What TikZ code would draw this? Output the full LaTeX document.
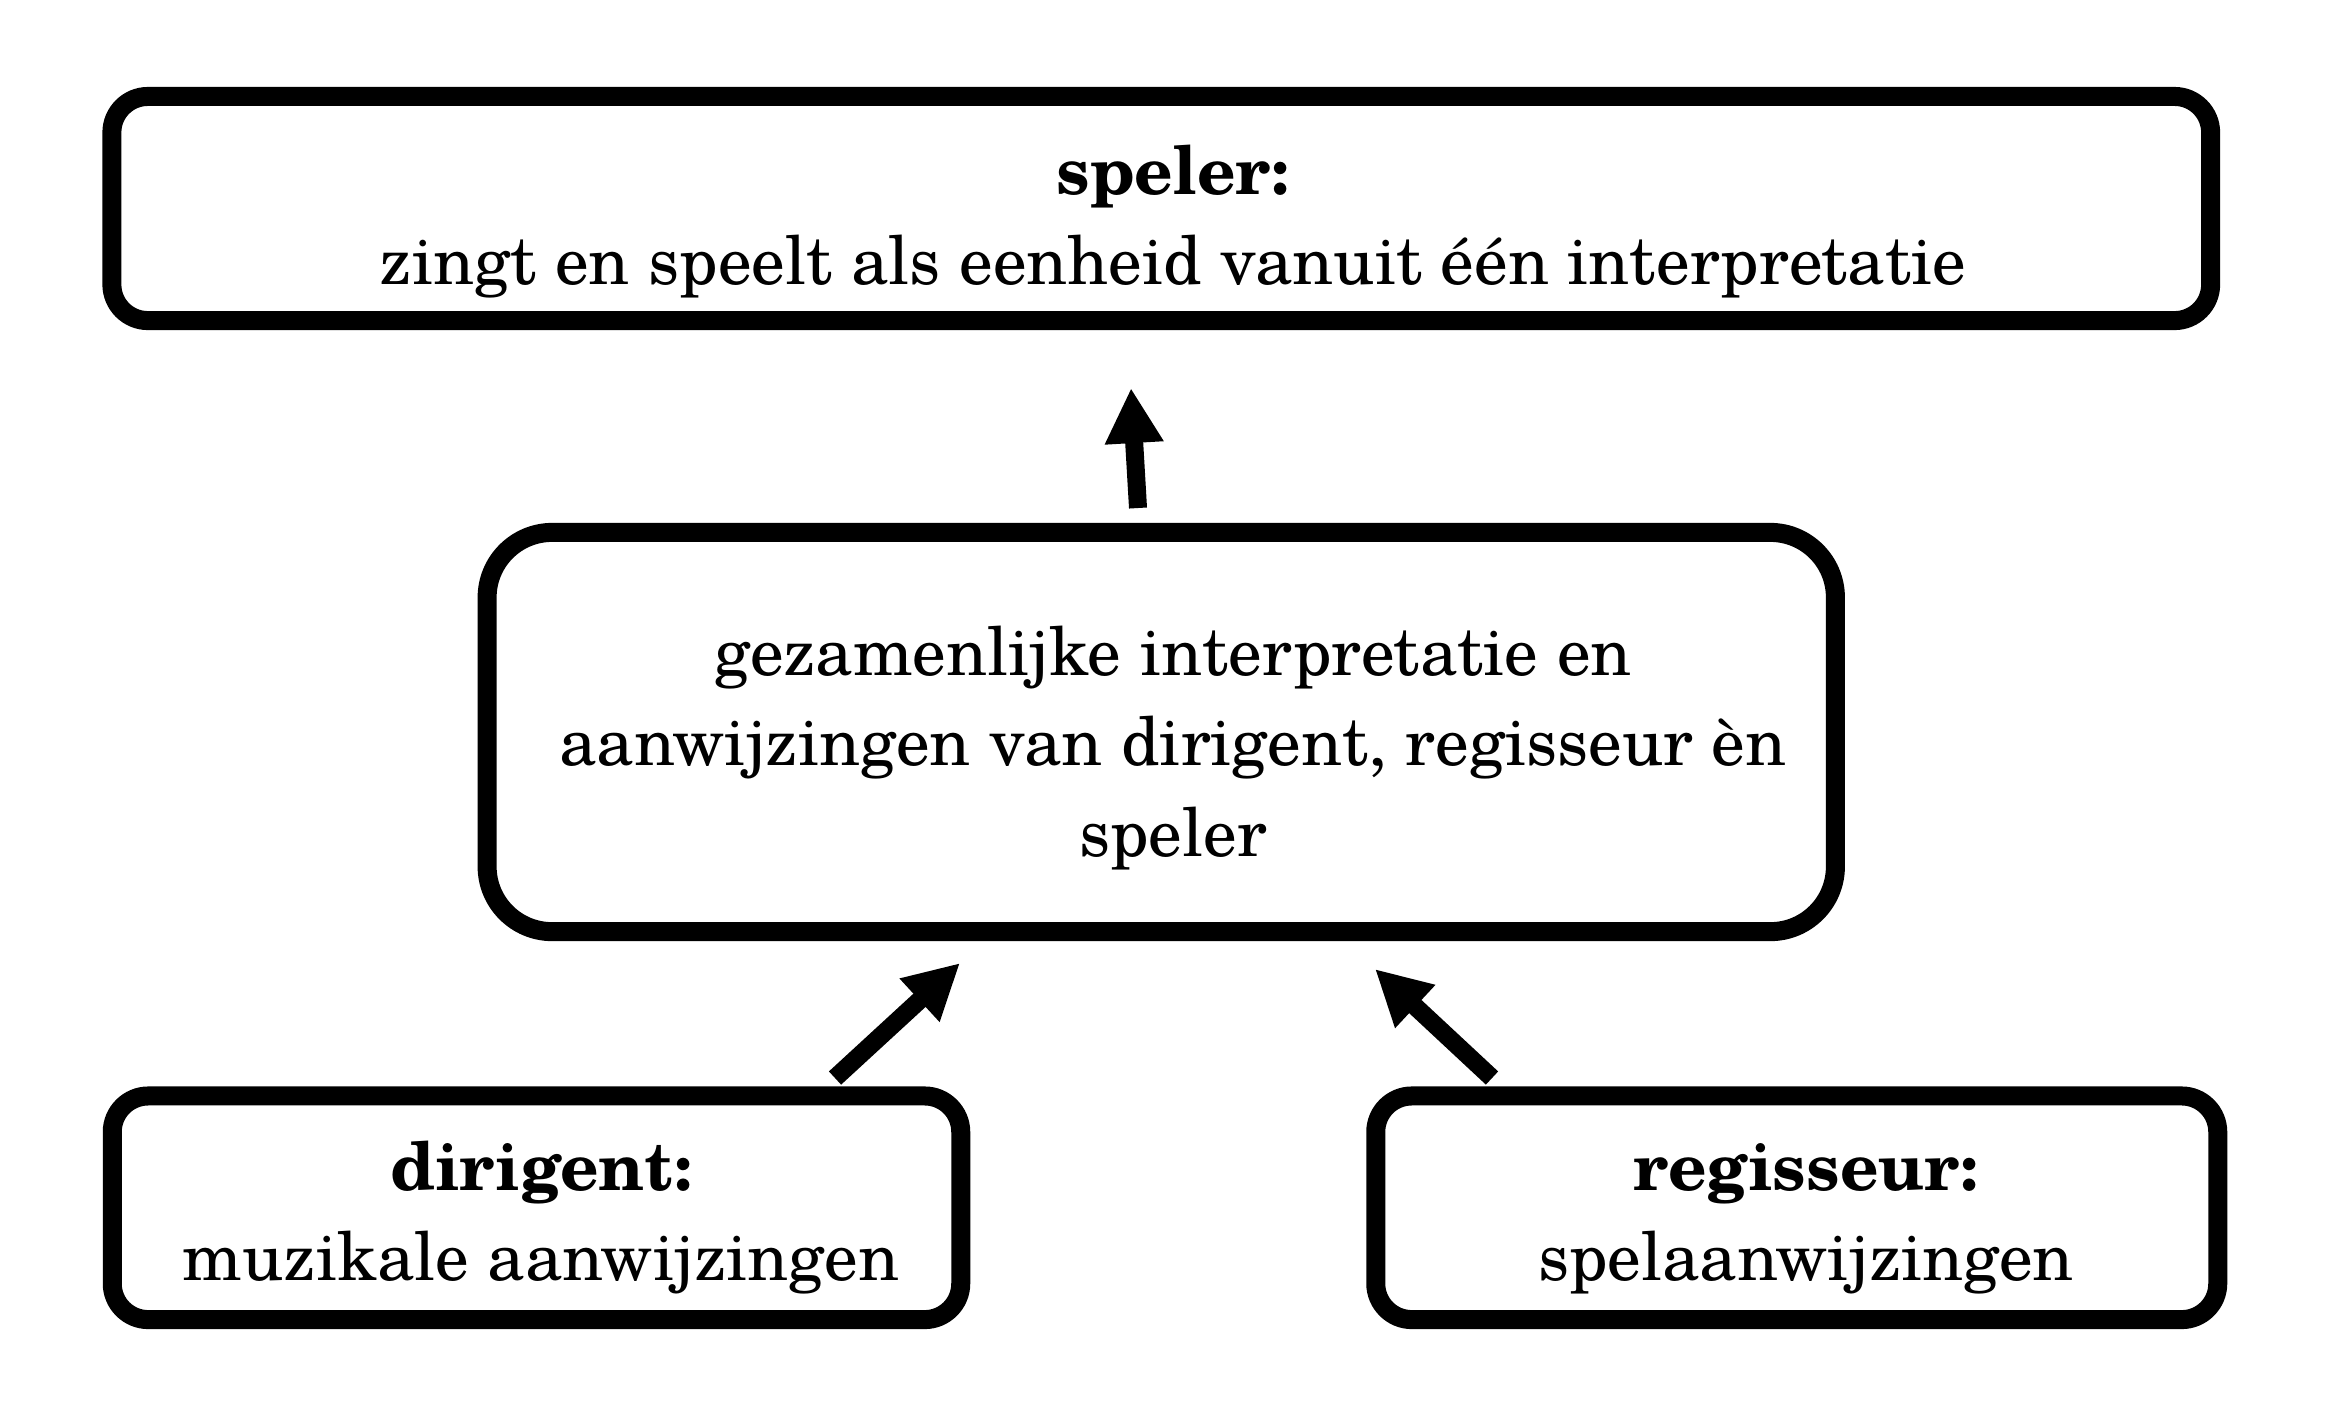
\documentclass[tikz,border=0pt]{standalone}
\usepackage{fontspec}
\setmainfont{TeX Gyre Schola}
\usetikzlibrary{arrows.meta}
\begin{document}
\begin{tikzpicture}[x=0.01cm,y=-0.01cm,
  box/.style={draw=black, line width=0.19cm, rectangle, inner sep=0pt, rounded corners=0.36cm},
  bigbox/.style={box, rounded corners=0.65cm},
  lbl/.style={align=center, inner sep=0pt, font=\fontsize{19.1pt}{25.6pt}\selectfont},
  arrowline/.style={line width=0.18cm, -{Triangle[length=0.55cm,width=0.55cm]}}]
\useasboundingbox (0,0) rectangle (2325,1426);
% boxes
\node[box, minimum width=20.975cm, minimum height=2.24cm] (top) at (1161.25,208.5) {};
\node[bigbox, minimum width=13.475cm, minimum height=3.99cm] (mid) at (1161.25,732) {};
\node[box, minimum width=8.48cm, minimum height=2.235cm] (dir) at (536.5,1207.75) {};
\node[box, minimum width=8.415cm, minimum height=2.235cm] (reg) at (1796.75,1207.75) {};
% texts
\node[lbl] (toptext) at (1173,222) {\textbf{speler:}\\zingt en speelt als eenheid vanuit één interpretatie};
\node[lbl] (midtext) at (1173,748) {gezamenlijke interpretatie en\\aanwijzingen van dirigent, regisseur èn\\speler};
\node[lbl] (dirtext) at (541,1218) {\textbf{dirigent:}\\muzikale aanwijzingen};
\node[lbl] (regtext) at (1806,1219) {\textbf{regisseur:}\\spelaanwijzingen};
% arrow end points
\coordinate (upS) at (1138,508);
\coordinate (upE) at (1131,388);
\coordinate (lS) at (835,1078);
\coordinate (lE) at (960,963);
\coordinate (rS) at (1492,1078);
\coordinate (rE) at (1375,969);
\draw[arrowline] (upS) -- (upE);
\draw[arrowline] (lS) -- (lE);
\draw[arrowline] (rS) -- (rE);
\end{tikzpicture}
\end{document}
